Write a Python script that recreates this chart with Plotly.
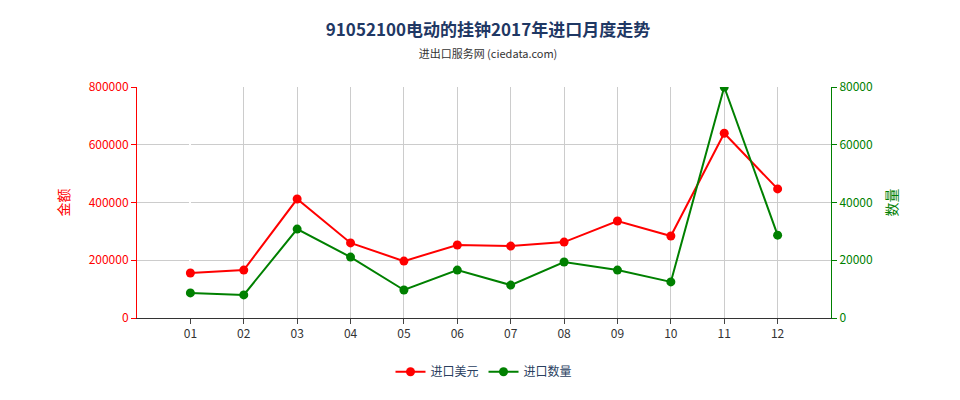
import plotly.graph_objects as go

months = ["01","02","03","04","05","06","07","08","09","10","11","12"]
value_usd = [156000,166000,412000,260000,197000,253000,249000,263000,336000,284000,640000,447000]
quantity = [8700,8000,30800,21100,9700,16600,11400,19400,16600,12500,80000,28700]
xs = list(range(len(months)))

fig = go.Figure()
fig.add_trace(go.Scatter(x=xs, y=value_usd, name="进口美元", mode="lines+markers",
    line=dict(color="#ff0000", width=2), marker=dict(size=9, color="#ff0000")))
fig.add_trace(go.Scatter(x=xs, y=quantity, name="进口数量", mode="lines+markers", yaxis="y2",
    line=dict(color="#008000", width=2), marker=dict(size=9, color="#008000")))

fig.update_layout(
    width=960, height=400, plot_bgcolor="white", paper_bgcolor="white",
    margin=dict(l=129, r=137, t=79, b=90),
    font=dict(family="Noto Sans CJK SC", size=12),
    title=dict(text="<b>91052100电动的挂钟2017年进口月度走势</b><br><span style='font-size:11px;color:#333'>进出口服务网 (ciedata.com)</span>",
               x=0.5, y=0.93, xanchor="center", font=dict(size=17, color="#1f3864")),
    xaxis=dict(tickvals=xs, ticktext=months, range=[-1, 12], showgrid=True, gridcolor="#cccccc",
               showline=True, linecolor="#333", ticks="outside", tickfont=dict(color="#333")),
    yaxis=dict(range=[0, 800000], dtick=200000, tickformat="d", showgrid=True, gridcolor="#cccccc",
               showline=True, linecolor="#ff0000", ticks="outside", tickcolor="#ff0000",
               tickfont=dict(color="#ff0000"), title=dict(text="金额", font=dict(color="#ff0000"))),
    yaxis2=dict(range=[0, 80000], dtick=20000, tickformat="d", overlaying="y", side="right",
                showgrid=False, showline=True, linecolor="#008000", ticks="outside", tickcolor="#008000",
                tickfont=dict(color="#008000"), title=dict(text="数量", font=dict(color="#008000"))),
    legend=dict(orientation="h", x=0.5, xanchor="center", y=-0.17, yanchor="top"),
)
fig.write_html("out.html")
